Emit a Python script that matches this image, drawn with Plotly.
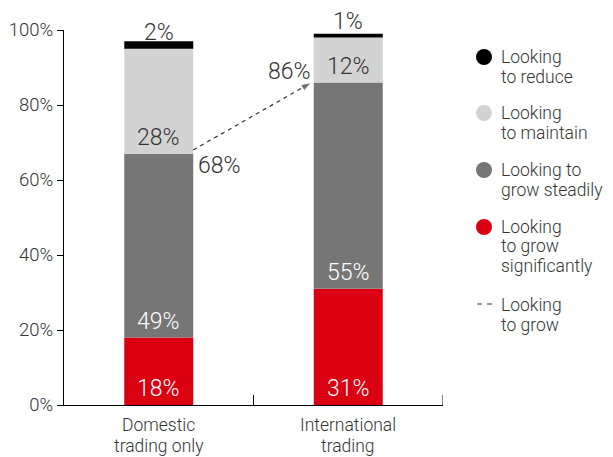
import plotly.graph_objects as go

# Survey data: share of firms by growth intention
categories = ["Domestic<br>trading only", "International<br>trading"]
grow_significantly = [18, 31]
grow_steadily = [49, 55]
maintain = [28, 12]
reduce = [2, 1]
looking_to_grow = [68, 86]  # combined "looking to grow" figures
y_ticks = [0, 20, 40, 60, 80, 100]
y_tick_text = ["0%", "20%", "40%", "60%", "80%", "100%"]

series_names = ["Looking<br>to reduce", "Looking<br>to maintain",
                "Looking to<br>grow steadily", "Looking<br>to grow<br>significantly"]
grow_name = "Looking<br>to grow"
RED, DARK, LIGHT, BLACK = "#DB0011", "#767676", "#D3D3D3", "#000000"
TEXT = "#333333"
FONT = "Roboto"
WEIGHT = 300

x = [0, 1]
BAR_W = 0.364

fig = go.Figure()
stack = [
    (grow_significantly, RED, "white"),
    (grow_steadily, DARK, "white"),
    (maintain, LIGHT, TEXT),
    (reduce, BLACK, TEXT),
]
base = [0, 0]
annotations = []
for vals, col, tcol in stack:
    fig.add_trace(go.Bar(x=x, y=vals, base=base, width=BAR_W, marker_color=col,
                         marker_line_width=0, showlegend=False, hoverinfo="skip"))
    for i, v in enumerate(vals):
        annotations.append(dict(x=x[i], y=base[i], text=f"{v}%", showarrow=False,
                                xref="x", yref="y", yanchor="bottom", yshift=1,
                                font=dict(family=FONT, size=23, color=tcol, weight=WEIGHT)))
    base = [b + v for b, v in zip(base, vals)]

# Dashed arrow linking the "looking to grow" totals
fig.add_trace(go.Scatter(
    x=[x[0] + BAR_W / 2, x[1] - BAR_W / 2 - 0.012], y=looking_to_grow,
    mode="lines+markers", line=dict(color=TEXT, width=1.2, dash="4px,4px"),
    marker=dict(symbol="arrow", size=[0, 11], angleref="previous", color=TEXT),
    showlegend=False, hoverinfo="skip"))
annotations.append(dict(x=x[0] + BAR_W / 2, y=looking_to_grow[0], text=f"{looking_to_grow[0]}%",
                        showarrow=False, xanchor="left", yanchor="top", xshift=3, yshift=0,
                        font=dict(family=FONT, size=23, color=TEXT, weight=WEIGHT)))
annotations.append(dict(x=x[1] - BAR_W / 2, y=looking_to_grow[1], text=f"{looking_to_grow[1]}%",
                        showarrow=False, xanchor="right", yanchor="bottom", xshift=-1, yshift=-4,
                        font=dict(family=FONT, size=23, color=TEXT, weight=WEIGHT)))

# Hand-built legend on the right (pixel layout converted to paper coordinates)
W, H = 613, 457
PX0, PX1, PY_TOP, PY_BOT = 64, 443, 30, 405
PW, PH = PX1 - PX0, PY_BOT - PY_TOP


def px(v):
    return (v - PX0) / PW


def py(v):
    return (PY_BOT - v) / PH


LINE_GAP = 19.5
shapes = []


def legend_text(label, first_line_y):
    for k, line in enumerate(label.split("<br>")):
        annotations.append(dict(xref="paper", yref="paper", x=px(499),
                                y=py(first_line_y + k * LINE_GAP), text=line, showarrow=False,
                                xanchor="left", yanchor="middle", align="left",
                                font=dict(family=FONT, size=17.5, color=TEXT, weight=WEIGHT)))


for name, col, cy in zip(series_names, [BLACK, LIGHT, DARK, RED], [57, 113, 170, 227]):
    shapes.append(dict(type="circle", xref="paper", yref="paper",
                       x0=px(476), x1=px(492), y0=py(cy + 8), y1=py(cy - 8),
                       fillcolor=col, line_width=0))
    legend_text(name, cy)

shapes.append(dict(type="line", xref="paper", yref="paper",
                   x0=px(477), x1=px(492), y0=py(304), y1=py(304),
                   line=dict(color=TEXT, width=1.2, dash="5px,5px")))
legend_text(grow_name, 305)

# Category separators on the baseline
for sx in (0.5, 1.5):
    shapes.append(dict(type="line", xref="x", yref="paper", x0=sx, x1=sx, y0=0, y1=10 / PH,
                       line=dict(color=BLACK, width=1)))

# Category labels beneath each bar
for xi, cat in zip(x, categories):
    for k, line in enumerate(cat.split("<br>")):
        annotations.append(dict(xref="x", yref="paper", x=xi, y=py(425 + k * 20.5),
                                text=line, showarrow=False, yanchor="middle",
                                font=dict(family=FONT, size=17.5, color=TEXT, weight=WEIGHT)))

fig.update_layout(
    width=W, height=H, margin=dict(l=PX0, r=W - PX1, t=PY_TOP, b=H - PY_BOT),
    plot_bgcolor="white", paper_bgcolor="white", barmode="overlay",
    annotations=annotations, shapes=shapes, showlegend=False,
    font=dict(family=FONT, color=TEXT, weight=WEIGHT),
)
fig.update_xaxes(range=[-0.5, 1.5], tickvals=x, showticklabels=False, ticks="",
                 showline=True, linecolor=BLACK, linewidth=1, showgrid=False, zeroline=False,
                 automargin=False, fixedrange=True)
fig.update_yaxes(range=[0, 100], tickvals=y_ticks, ticktext=y_tick_text,
                 ticks="outside", ticklen=6, tickcolor=BLACK, showline=True, linecolor=BLACK,
                 linewidth=1, showgrid=False, zeroline=False, automargin=False,
                 tickfont=dict(family=FONT, size=18.5, color=TEXT, weight=WEIGHT), fixedrange=True)

fig.write_html("out.html")
